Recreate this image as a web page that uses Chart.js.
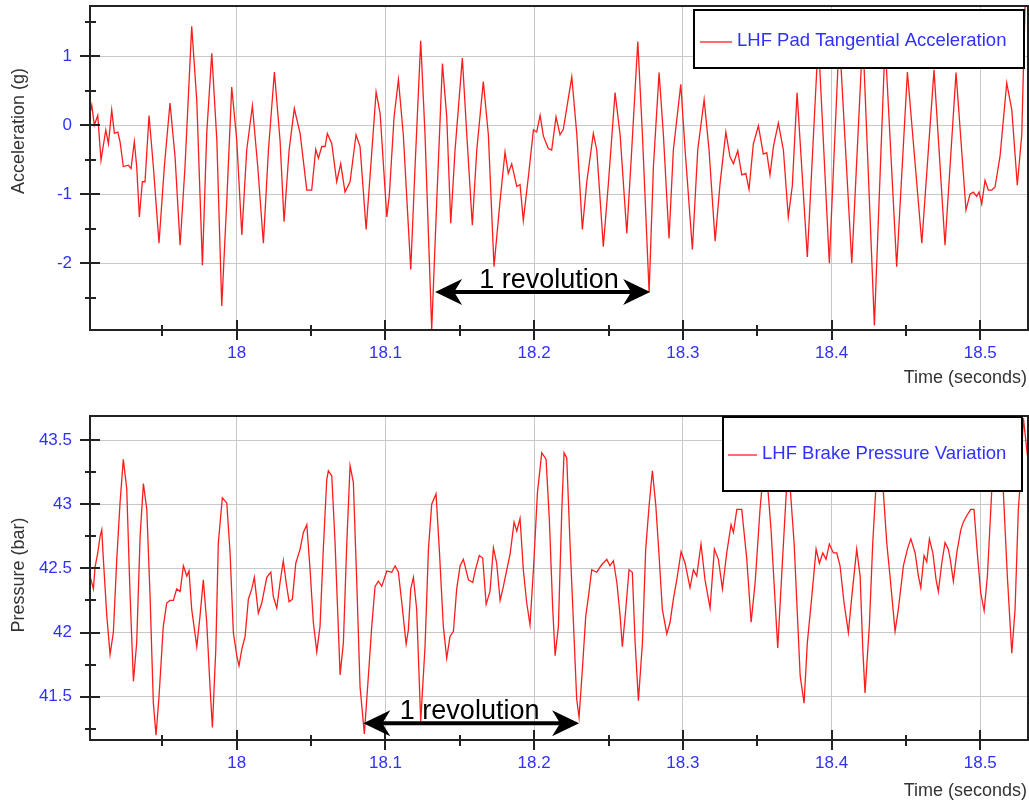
<!DOCTYPE html>
<html>
<head>
<meta charset="utf-8">
<title>LHF pad acceleration and brake pressure</title>
<script src="https://cdn.jsdelivr.net/npm/chart.js@4.4.1/dist/chart.umd.min.js"></script>
<style>
  html, body { margin: 0; padding: 0; background: #fff; }
  #wrap { position: relative; width: 1029px; height: 803px; overflow: hidden; }
  canvas { position: absolute; left: 0; }
  #accChart { top: 0; }
  #pressureChart { top: 400px; }
</style>
</head>
<body>
<div id="wrap">
  <canvas id="accChart" width="1029" height="400"></canvas>
  <canvas id="pressureChart" width="1029" height="403"></canvas>
</div>
<script>
// tick values
const timeTicks = [18, 18.1, 18.2, 18.3, 18.4, 18.5];
const timeMinorTicks = [17.95, 18.05, 18.15, 18.25, 18.35, 18.45];
const accTicks = [-2, -1, 0, 1];
const accMinorTicks = [-2.5, -1.5, -0.5, 0.5, 1.5];
const pressureTicks = [41.5, 42, 42.5, 43, 43.5];
const pressureMinorTicks = [41.25, 41.75, 42.25, 42.75, 43.25];

// LHF pad tangential acceleration (g) vs time (s)
const accTimes = [
  17.9013, 17.9025, 17.9042, 17.9065, 17.9087, 17.9119, 17.9137, 17.9159, 17.9177, 17.9200,
  17.9215, 17.9237, 17.9271, 17.9289, 17.9311, 17.9327, 17.9345, 17.9365, 17.9383, 17.9410,
  17.9439, 17.9477, 17.9513, 17.9551, 17.9585, 17.9619, 17.9652, 17.9697, 17.9731, 17.9769,
  17.9798, 17.9832, 17.9866, 17.9899, 17.9933, 17.9966, 18.0000, 18.0034, 18.0067, 18.0105,
  18.0141, 18.0179, 18.0213, 18.0253, 18.0291, 18.0318, 18.0352, 18.0387, 18.0426, 18.0471,
  18.0504, 18.0531, 18.0549, 18.0572, 18.0594, 18.0609, 18.0639, 18.0672, 18.0699, 18.0728,
  18.0762, 18.0802, 18.0829, 18.0870, 18.0901, 18.0937, 18.0964, 18.1009, 18.1026, 18.1058,
  18.1087, 18.1120, 18.1170, 18.1199, 18.1237, 18.1266, 18.1311, 18.1345, 18.1383, 18.1412,
  18.1439, 18.1468, 18.1517, 18.1547, 18.1584, 18.1614, 18.1658, 18.1692, 18.1730, 18.1771,
  18.1804, 18.1826, 18.1849, 18.1883, 18.1905, 18.1927, 18.1961, 18.1995, 18.2017, 18.2040,
  18.2062, 18.2095, 18.2118, 18.2147, 18.2174, 18.2196, 18.2253, 18.2287, 18.2324, 18.2354,
  18.2398, 18.2421, 18.2465, 18.2499, 18.2544, 18.2578, 18.2623, 18.2656, 18.2697, 18.2728,
  18.2773, 18.2802, 18.2840, 18.2869, 18.2907, 18.2936, 18.2986, 18.3015, 18.3064, 18.3100,
  18.3143, 18.3176, 18.3217, 18.3250, 18.3289, 18.3317, 18.3340, 18.3369, 18.3396, 18.3423,
  18.3445, 18.3474, 18.3508, 18.3541, 18.3564, 18.3586, 18.3609, 18.3642, 18.3676, 18.3709,
  18.3736, 18.3768, 18.3837, 18.3911, 18.3985, 18.4052, 18.4136, 18.4210, 18.4288, 18.4360,
  18.4438, 18.4510, 18.4607, 18.4689, 18.4763, 18.4837, 18.4904, 18.4931, 18.4953, 18.4976,
  18.4992, 18.5010, 18.5032, 18.5054, 18.5077, 18.5099, 18.5133, 18.5178, 18.5212, 18.5249,
  18.5279, 18.5301, 18.5321
];
const accValues = [
  0.17, 0.29, 0.00, 0.14, -0.51, -0.07, -0.27, 0.22, -0.12, -0.10,
  -0.24, -0.60, -0.58, -0.63, -0.24, -0.60, -1.33, -0.82, -0.82, 0.14,
  -0.60, -1.71, -0.60, 0.32, -0.46, -1.74, -0.60, 1.43, 0.36, -2.03,
  -0.12, 1.04, -0.22, -2.62, -1.09, 0.55, -0.22, -1.59, -0.36, 0.28,
  -0.60, -1.71, -0.36, 0.77, -0.22, -1.40, -0.36, 0.24, -0.12, -0.94,
  -0.94, -0.35, -0.48, -0.31, -0.31, -0.12, -0.27, -0.82, -0.56, -0.97,
  -0.82, -0.14, -0.31, -1.51, -0.60, 0.48, 0.17, -1.33, -1.01, 0.12,
  0.66, -0.14, -2.09, -0.60, 1.22, -0.14, -2.96, -1.09, 0.89, 0.12,
  -1.42, -0.36, 0.97, -0.14, -1.45, -0.36, 0.63, -0.14, -2.05, -1.09,
  -0.39, -0.70, -0.56, -0.89, -0.86, -1.38, -0.75, -0.07, -0.10, 0.14,
  -0.16, -0.34, -0.36, 0.12, -0.14, -0.06, 0.70, -0.14, -1.51, -0.82,
  -0.12, -0.36, -1.76, -0.85, 0.47, -0.14, -1.57, -0.36, 1.21, -0.14,
  -2.42, -0.60, 0.76, -0.14, -1.64, -0.36, 0.59, -0.36, -1.80, -0.36,
  0.37, -0.36, -1.68, -0.85, -0.10, -0.46, -0.56, -0.37, -0.72, -0.70,
  -0.93, -0.27, -0.01, -0.42, -0.40, -0.72, -0.31, 0.03, -0.36, -1.33,
  -0.88, 0.47, -1.91, 1.25, -2.00, 1.30, -2.00, 1.30, -2.90, 1.20,
  -2.05, 0.77, -1.71, 0.80, -1.74, 0.76, -1.23, -1.00, -0.97, -1.03,
  -0.97, -1.14, -0.80, -0.94, -0.94, -0.90, -0.45, 0.61, 0.22, -0.87,
  -0.14, 1.70, 1.80
];

// LHF brake pressure (bar) vs time (s)
const pressureTimes = [
  17.9013, 17.9036, 17.9047, 17.9065, 17.9081, 17.9092, 17.9103, 17.9126, 17.9148, 17.9170,
  17.9193, 17.9215, 17.9237, 17.9260, 17.9282, 17.9305, 17.9327, 17.9350, 17.9372, 17.9395,
  17.9417, 17.9439, 17.9457, 17.9477, 17.9506, 17.9529, 17.9551, 17.9574, 17.9596, 17.9619,
  17.9641, 17.9664, 17.9679, 17.9697, 17.9731, 17.9753, 17.9775, 17.9798, 17.9820, 17.9836,
  17.9859, 17.9876, 17.9903, 17.9933, 17.9955, 17.9977, 18.0000, 18.0015, 18.0034, 18.0056,
  18.0078, 18.0101, 18.0118, 18.0145, 18.0168, 18.0202, 18.0229, 18.0246, 18.0269, 18.0291,
  18.0313, 18.0332, 18.0352, 18.0374, 18.0397, 18.0426, 18.0448, 18.0471, 18.0493, 18.0515,
  18.0538, 18.0560, 18.0582, 18.0605, 18.0616, 18.0639, 18.0661, 18.0695, 18.0717, 18.0740,
  18.0762, 18.0784, 18.0807, 18.0829, 18.0858, 18.0885, 18.0908, 18.0930, 18.0952, 18.0975,
  18.1009, 18.1042, 18.1065, 18.1087, 18.1110, 18.1139, 18.1154, 18.1170, 18.1188, 18.1210,
  18.1237, 18.1266, 18.1289, 18.1311, 18.1340, 18.1362, 18.1389, 18.1412, 18.1434, 18.1457,
  18.1479, 18.1502, 18.1524, 18.1558, 18.1587, 18.1603, 18.1631, 18.1654, 18.1677, 18.1703,
  18.1726, 18.1748, 18.1771, 18.1793, 18.1816, 18.1838, 18.1865, 18.1883, 18.1905, 18.1927,
  18.1950, 18.1972, 18.1995, 18.2022, 18.2051, 18.2080, 18.2102, 18.2125, 18.2141, 18.2163,
  18.2186, 18.2201, 18.2219, 18.2241, 18.2264, 18.2286, 18.2302, 18.2324, 18.2347, 18.2365,
  18.2387, 18.2421, 18.2455, 18.2488, 18.2510, 18.2533, 18.2556, 18.2578, 18.2593, 18.2616,
  18.2638, 18.2660, 18.2679, 18.2701, 18.2728, 18.2750, 18.2773, 18.2795, 18.2818, 18.2840,
  18.2862, 18.2892, 18.2914, 18.2936, 18.2959, 18.2988, 18.3015, 18.3048, 18.3071, 18.3093,
  18.3122, 18.3149, 18.3183, 18.3212, 18.3239, 18.3266, 18.3295, 18.3324, 18.3340, 18.3363,
  18.3396, 18.3430, 18.3459, 18.3486, 18.3519, 18.3553, 18.3593, 18.3638, 18.3667, 18.3708,
  18.3748, 18.3789, 18.3815, 18.3837, 18.3867, 18.3896, 18.3918, 18.3941, 18.3963, 18.3985,
  18.4012, 18.4035, 18.4057, 18.4084, 18.4113, 18.4136, 18.4169, 18.4192, 18.4210, 18.4225,
  18.4254, 18.4277, 18.4299, 18.4324, 18.4348, 18.4371, 18.4393, 18.4427, 18.4449, 18.4483,
  18.4510, 18.4533, 18.4562, 18.4584, 18.4600, 18.4622, 18.4640, 18.4658, 18.4681, 18.4703,
  18.4718, 18.4741, 18.4763, 18.4785, 18.4797, 18.4819, 18.4842, 18.4869, 18.4886, 18.4909,
  18.4936, 18.4958, 18.4980, 18.5003, 18.5026, 18.5048, 18.5077, 18.5113, 18.5155, 18.5182,
  18.5212, 18.5234, 18.5256, 18.5268, 18.5290, 18.5317
];
const pressureValues = [
  42.44, 42.34, 42.51, 42.62, 42.75, 42.80, 42.57, 42.13, 41.83, 42.00,
  42.57, 43.01, 43.35, 43.12, 42.31, 41.62, 41.92, 42.75, 43.16, 42.96,
  42.28, 41.45, 41.20, 41.50, 42.05, 42.23, 42.25, 42.25, 42.34, 42.32,
  42.52, 42.44, 42.48, 42.18, 41.89, 42.13, 42.41, 42.08, 41.58, 41.26,
  41.87, 42.70, 43.05, 43.01, 42.62, 42.00, 41.82, 41.74, 41.87, 41.97,
  42.26, 42.34, 42.43, 42.15, 42.23, 42.43, 42.47, 42.28, 42.19, 42.39,
  42.56, 42.39, 42.24, 42.26, 42.54, 42.65, 42.78, 42.84, 42.49, 42.08,
  41.85, 42.05, 42.65, 43.19, 43.26, 43.22, 42.70, 41.67, 41.92, 42.70,
  43.30, 43.17, 42.39, 41.58, 41.21, 41.66, 42.05, 42.36, 42.40, 42.36,
  42.48, 42.47, 42.52, 42.47, 42.23, 41.91, 42.02, 42.34, 42.43, 42.18,
  41.31, 41.89, 42.65, 43.00, 43.08, 42.65, 42.05, 41.80, 41.97, 42.01,
  42.34, 42.52, 42.57, 42.41, 42.39, 42.48, 42.60, 42.58, 42.22, 42.32,
  42.66, 42.54, 42.25, 42.36, 42.49, 42.61, 42.86, 42.79, 42.89, 42.49,
  42.23, 42.06, 42.49, 43.09, 43.40, 43.35, 42.88, 42.18, 41.82, 42.05,
  42.96, 43.40, 43.36, 42.70, 42.08, 41.48, 41.34, 41.71, 42.13, 42.28,
  42.49, 42.47, 42.53, 42.57, 42.52, 42.56, 42.39, 42.13, 41.89, 42.18,
  42.49, 42.47, 41.92, 41.47, 41.92, 42.65, 42.99, 43.26, 42.99, 42.60,
  42.18, 41.99, 42.08, 42.26, 42.41, 42.63, 42.54, 42.35, 42.49, 42.44,
  42.69, 42.41, 42.19, 42.65, 42.57, 42.34, 42.62, 42.84, 42.78, 42.96,
  42.96, 42.57, 42.08, 42.39, 42.96, 43.40, 42.80, 41.88, 42.50, 43.35,
  42.70, 41.66, 41.45, 41.92, 42.28, 42.65, 42.54, 42.62, 42.57, 42.69,
  42.62, 42.62, 42.52, 42.23, 42.00, 42.28, 42.65, 42.44, 41.87, 41.53,
  42.05, 42.70, 43.15, 43.40, 43.10, 42.70, 42.44, 42.01, 42.18, 42.52,
  42.65, 42.73, 42.62, 42.44, 42.35, 42.60, 42.55, 42.73, 42.62, 42.41,
  42.32, 42.54, 42.70, 42.65, 42.58, 42.40, 42.62, 42.80, 42.86, 42.91,
  42.96, 42.96, 42.62, 42.31, 42.17, 42.44, 43.10, 43.35, 43.10, 42.44,
  41.84, 42.18, 42.96, 43.15, 43.67, 43.38
];

const FONT = '"Liberation Sans", Arial, Helvetica, sans-serif';
const BLUE = '#3030ff';
const RED = '#ff1c1c';

document.addEventListener('DOMContentLoaded', () => {
  buildChart('accChart', {
    label: 'LHF Pad Tangential Acceleration',
    times: accTimes,
    values: accValues,
    yMin: -2.967,
    yMax: 1.725,
    yTicks: accTicks,
    yMinor: accMinorTicks,
    padTop: 6,
    xAxisHeight: 70,
    yTitle: { text: 'Acceleration (g)', x: 19, y: 131 },
    xTitleY: 378,
    legend: { left: 694, top: 10, right: 1024, bottom: 68, lineFrom: 700, lineTo: 732, lineY: 42, textX: 737, textY: 41 },
    revolution: { from: 18.1334, to: 18.2780, y: -2.416, textAt: 18.2100 }
  });

  buildChart('pressureChart', {
    label: 'LHF Brake Pressure Variation',
    times: pressureTimes,
    values: pressureValues,
    yMin: 41.163,
    yMax: 43.687,
    yTicks: pressureTicks,
    yMinor: pressureMinorTicks,
    padTop: 16,
    xAxisHeight: 63,
    yTitle: { text: 'Pressure (bar)', x: 19, y: 175 },
    xTitleY: 391,
    legend: { left: 723, top: 17, right: 1022, bottom: 91, lineFrom: 728, lineTo: 757, lineY: 55, textX: 762, textY: 54 },
    revolution: { from: 18.0851, to: 18.2302, y: 41.293, textAt: 18.1566 }
  });
});

/**
 * Build one time-history chart
 */
function buildChart(id, cfg) {
  const ctx = document.getElementById(id).getContext('2d');
  return new Chart(ctx, {
    type: 'line',
    data: {
      datasets: [{
        label: cfg.label,
        data: cfg.times.map((t, i) => ({ x: t, y: cfg.values[i] })),
        borderColor: RED,
        borderWidth: 1.3,
        pointRadius: 0,
        tension: 0,
        fill: false
      }]
    },
    options: {
      responsive: false,
      devicePixelRatio: 1,
      animation: false,
      layout: { padding: { top: cfg.padTop, right: 1, bottom: 0, left: 0 } },
      plugins: {
        legend: { display: false },
        tooltip: { enabled: false }
      },
      scales: {
        x: {
          type: 'linear',
          min: 17.9013,
          max: 18.5321,
          afterBuildTicks: (s) => { s.ticks = timeTicks.map(v => ({ value: v })); },
          afterFit: (s) => {
            s.height = cfg.xAxisHeight;
            s.paddingLeft = 0;
            s.paddingRight = 0;
          },
          grid: { color: '#c8c8c8', lineWidth: 1, drawTicks: false },
          border: { display: false },
          ticks: {
            color: BLUE,
            font: { family: FONT, size: 17 },
            padding: 13,
            maxRotation: 0,
            autoSkip: false,
            callback: v => String(Math.round(v * 10) / 10)
          }
        },
        y: {
          type: 'linear',
          min: cfg.yMin,
          max: cfg.yMax,
          afterBuildTicks: (s) => { s.ticks = cfg.yTicks.map(v => ({ value: v })); },
          afterFit: (s) => {
            s.width = 90;
            s.paddingTop = 0;
            s.paddingBottom = 0;
          },
          grid: { color: '#c8c8c8', lineWidth: 1, drawTicks: false },
          border: { display: false },
          ticks: {
            color: BLUE,
            font: { family: FONT, size: 17 },
            padding: 18,
            autoSkip: false,
            callback: v => String(v)
          }
        }
      }
    },
    plugins: [decorPlugin(cfg)]
  });
}

/**
 * Frame, crossing tick marks, boxed legend, axis titles and the revolution marker
 */
function decorPlugin(cfg) {
  return {
    id: 'decor',
    afterDatasetsDraw(chart) {
      const { ctx, chartArea: a } = chart;
      const x = chart.scales.x;
      const y = chart.scales.y;
      ctx.save();

      // plot frame
      ctx.strokeStyle = '#222';
      ctx.lineWidth = 2;
      ctx.strokeRect(a.left, a.top, a.right - a.left, a.bottom - a.top);

      // tick marks straddling the axes
      ctx.lineWidth = 2;
      ctx.beginPath();
      timeTicks.forEach(v => {
        const px = Math.round(x.getPixelForValue(v));
        ctx.moveTo(px, a.bottom - 10);
        ctx.lineTo(px, a.bottom + 10);
      });
      timeMinorTicks.forEach(v => {
        const px = Math.round(x.getPixelForValue(v));
        ctx.moveTo(px, a.bottom - 5);
        ctx.lineTo(px, a.bottom + 6);
      });
      cfg.yTicks.forEach(v => {
        const py = Math.round(y.getPixelForValue(v));
        ctx.moveTo(a.left - 10, py);
        ctx.lineTo(a.left + 10, py);
      });
      cfg.yMinor.forEach(v => {
        const py = Math.round(y.getPixelForValue(v));
        ctx.moveTo(a.left - 5, py);
        ctx.lineTo(a.left + 6, py);
      });
      ctx.stroke();

      // legend box drawn over the trace
      const L = cfg.legend;
      ctx.fillStyle = '#fff';
      ctx.fillRect(L.left, L.top, L.right - L.left, L.bottom - L.top);
      ctx.strokeStyle = '#000';
      ctx.lineWidth = 2;
      ctx.strokeRect(L.left, L.top, L.right - L.left, L.bottom - L.top);
      ctx.strokeStyle = RED;
      ctx.lineWidth = 1.3;
      ctx.beginPath();
      ctx.moveTo(L.lineFrom, L.lineY);
      ctx.lineTo(L.lineTo, L.lineY);
      ctx.stroke();
      ctx.fillStyle = BLUE;
      ctx.font = '18.5px ' + FONT;
      ctx.textAlign = 'left';
      ctx.textBaseline = 'middle';
      ctx.fillText(cfg.label, L.textX, L.textY);

      // axis titles
      ctx.fillStyle = '#333';
      ctx.font = '18px ' + FONT;
      ctx.textAlign = 'right';
      ctx.fillText('Time (seconds)', 1027, cfg.xTitleY);
      ctx.save();
      ctx.translate(cfg.yTitle.x, cfg.yTitle.y);
      ctx.rotate(-Math.PI / 2);
      ctx.textAlign = 'center';
      ctx.fillText(cfg.yTitle.text, 0, 0);
      ctx.restore();

      // "1 revolution" double arrow
      const R = cfg.revolution;
      const x1 = x.getPixelForValue(R.from);
      const x2 = x.getPixelForValue(R.to);
      const ay = y.getPixelForValue(R.y);
      drawDoubleArrow(ctx, x1, x2, ay);
      ctx.fillStyle = '#000';
      ctx.font = '27px ' + FONT;
      ctx.textAlign = 'center';
      ctx.textBaseline = 'alphabetic';
      ctx.fillText('1 revolution', x.getPixelForValue(R.textAt), ay - 4);

      ctx.restore();
    }
  };
}

/**
 * Horizontal double-headed arrow
 */
function drawDoubleArrow(ctx, x1, x2, y) {
  ctx.strokeStyle = '#000';
  ctx.fillStyle = '#000';
  ctx.lineWidth = 4;
  ctx.beginPath();
  ctx.moveTo(x1 + 18, y);
  ctx.lineTo(x2 - 18, y);
  ctx.stroke();
  [[x1, 1], [x2, -1]].forEach(([tip, d]) => {
    ctx.beginPath();
    ctx.moveTo(tip, y);
    ctx.lineTo(tip + d * 27, y - 13);
    ctx.lineTo(tip + d * 19, y);
    ctx.lineTo(tip + d * 27, y + 13);
    ctx.closePath();
    ctx.fill();
  });
}
</script>
</body>
</html>
